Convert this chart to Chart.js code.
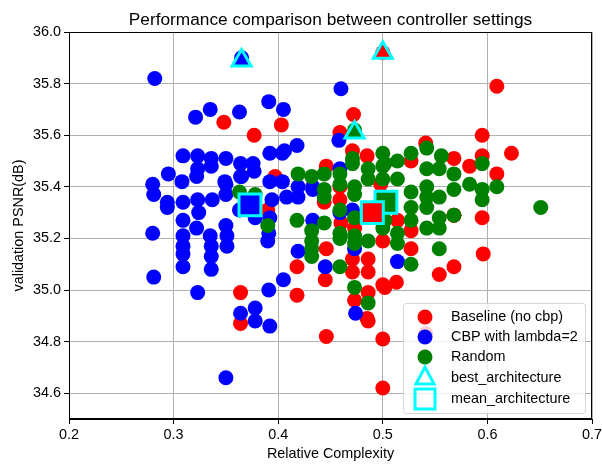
<!DOCTYPE html>
<html>
<head>
<meta charset="utf-8">
<script src="https://cdn.jsdelivr.net/npm/chart.js@4"></script>
<style>
  html, body { margin: 0; padding: 0; background: #fff; }
  #wrap { width: 602px; height: 464px; }
</style>
</head>
<body>
<div id="wrap"><canvas id="scatter-chart" width="602" height="464"></canvas></div>
<script>
// values: [relative complexity, PSNR]
var baseline = [
  [0.348,35.65],[0.377,35.60],[0.403,35.64],[0.472,35.68],[0.459,35.61],[0.500,35.92],
  [0.609,35.79],[0.595,35.60],[0.623,35.53],[0.595,35.52],[0.609,35.45],[0.583,35.48],
  [0.568,35.51],[0.595,35.28],[0.568,35.29],[0.596,35.14],[0.568,35.09],[0.554,35.06],
  [0.541,35.57],[0.527,35.50],[0.471,35.54],[0.485,35.52],[0.446,35.48],[0.459,35.40],
  [0.459,35.35],[0.444,35.34],[0.473,35.24],[0.471,35.12],[0.471,35.07],[0.486,35.12],
  [0.486,35.07],[0.486,34.99],[0.500,35.19],[0.500,35.02],[0.446,35.16],[0.418,35.09],
  [0.445,35.04],[0.418,34.98],[0.446,34.82],[0.500,34.81],[0.500,34.62],[0.485,34.89],
  [0.473,34.96],[0.486,34.88],[0.364,34.99],[0.364,34.87],[0.527,35.16],[0.513,35.03],
  [0.502,35.01],[0.541,34.83],[0.514,35.27],[0.527,35.23],[0.489,35.30],[0.390,35.31],
  [0.397,35.44],[0.498,35.41],[0.568,35.29],[0.460,35.26]
];
var cbp = [
  [0.282,35.82],[0.365,35.90],[0.321,35.67],[0.335,35.70],[0.363,35.69],[0.391,35.73],
  [0.405,35.70],[0.460,35.78],[0.418,35.56],[0.392,35.53],[0.404,35.53],[0.458,35.58],
  [0.309,35.52],[0.323,35.52],[0.336,35.51],[0.350,35.51],[0.364,35.49],[0.376,35.49],
  [0.295,35.45],[0.308,35.42],[0.322,35.44],[0.323,35.47],[0.336,35.48],[0.349,35.42],
  [0.364,35.44],[0.377,35.46],[0.392,35.42],[0.404,35.42],[0.280,35.41],[0.281,35.37],
  [0.294,35.34],[0.294,35.32],[0.309,35.34],[0.323,35.35],[0.324,35.30],[0.337,35.35],
  [0.350,35.37],[0.350,35.41],[0.365,35.44],[0.419,35.40],[0.433,35.40],[0.363,35.31],
  [0.378,35.28],[0.394,35.35],[0.392,35.28],[0.309,35.27],[0.322,35.24],[0.350,35.25],
  [0.391,35.22],[0.309,35.21],[0.335,35.21],[0.351,35.21],[0.280,35.22],[0.309,35.17],
  [0.309,35.14],[0.309,35.09],[0.336,35.17],[0.336,35.13],[0.336,35.08],[0.351,35.17],
  [0.390,35.19],[0.281,35.05],[0.323,34.99],[0.391,35.00],[0.364,34.91],[0.378,34.93],
  [0.378,34.88],[0.392,34.86],[0.405,35.04],[0.419,35.15],[0.433,35.27],[0.445,35.09],
  [0.408,35.36],[0.419,35.36],[0.433,35.39],[0.459,35.47],[0.459,35.30],[0.471,35.31],
  [0.473,35.16],[0.474,34.91],[0.350,34.66],[0.514,35.11],[0.406,35.54]
];
var random = [
  [0.473,35.62],[0.651,35.32],[0.609,35.40],[0.595,35.49],[0.595,35.35],[0.595,35.39],
  [0.583,35.41],[0.568,35.45],[0.568,35.39],[0.556,35.52],[0.554,35.47],[0.554,35.36],
  [0.554,35.28],[0.554,35.24],[0.554,35.16],[0.542,35.55],[0.542,35.47],[0.542,35.40],
  [0.542,35.36],[0.542,35.32],[0.542,35.24],[0.527,35.53],[0.527,35.38],[0.527,35.32],
  [0.527,35.27],[0.527,35.10],[0.514,35.50],[0.514,35.43],[0.514,35.22],[0.514,35.18],
  [0.500,35.53],[0.502,35.49],[0.500,35.43],[0.502,35.27],[0.500,35.24],[0.419,35.45],
  [0.432,35.44],[0.444,35.45],[0.459,35.45],[0.471,35.51],[0.471,35.49],[0.486,35.47],
  [0.486,35.43],[0.500,35.48],[0.444,35.39],[0.444,35.36],[0.459,35.41],[0.473,35.40],
  [0.473,35.37],[0.459,35.31],[0.418,35.27],[0.444,35.26],[0.432,35.23],[0.432,35.19],
  [0.432,35.16],[0.432,35.13],[0.459,35.22],[0.459,35.20],[0.473,35.28],[0.473,35.21],
  [0.473,35.18],[0.486,35.19],[0.459,35.09],[0.473,35.01],[0.486,34.95],[0.390,35.25],
  [0.363,35.38],[0.378,35.37],[0.568,35.29]
];
var bestArch = [[0.500,35.92],[0.365,35.89],[0.473,35.61]];
var meanArch = [[0.490,35.30],[0.373,35.33],[0.503,35.34]];
var seriesNames = ['Baseline (no cbp)', 'CBP with lambda=2', 'Random'];
var seriesColors = ['#ff0000', '#0000ff', '#008000'];
var xTicks = [0.2, 0.3, 0.4, 0.5, 0.6, 0.7];
var yTicks = [34.6, 34.8, 35.0, 35.2, 35.4, 35.6, 35.8, 36.0];
var titleText = 'Performance comparison between controller settings';

var FONT = '"Liberation Sans", Arial, sans-serif';
var FS = 14.4;

function pts(arr) { return arr.map(p => ({ x: p[0], y: p[1] })); }

var datasets = [];
[baseline, cbp, random].forEach(function (arr, i) {
  datasets.push({
    label: seriesNames[i],
    data: pts(arr),
    backgroundColor: seriesColors[i],
    borderWidth: 0,
    pointRadius: 7.5,
    pointHoverRadius: 7.5,
    order: 10 - i
  });
});
bestArch.forEach(function (p, i) {
  datasets.push({
    label: 'best_architecture',
    data: pts([p]),
    pointStyle: 'triangle',
    backgroundColor: seriesColors[i],
    borderColor: '#00ffff',
    borderWidth: 3,
    pointRadius: 11,
    order: 2
  });
});
meanArch.forEach(function (p, i) {
  datasets.push({
    label: 'mean_architecture',
    data: pts([p]),
    pointStyle: 'rect',
    backgroundColor: seriesColors[i],
    borderColor: '#00ffff',
    borderWidth: 3,
    pointRadius: 15.5,
    order: 1
  });
});

// matplotlib-like frame, title over the axes and legend inside them
var framePlugin = {
  id: 'frame',
  afterDatasetsDraw: function (chart) {
    var a = chart.chartArea, ctx = chart.ctx;
    ctx.save();
    ctx.strokeStyle = '#000';
    ctx.lineWidth = 1;
    ctx.strokeRect(a.left + 0.5, a.top + 0.5, a.right - a.left - 1, a.bottom - a.top - 1);

    ctx.fillStyle = '#000';
    ctx.font = '17.3px ' + FONT;
    ctx.textAlign = 'center';
    ctx.textBaseline = 'alphabetic';
    ctx.fillText(titleText, (a.left + a.right) / 2, 25);

    // legend box
    var bx = 403, by = 303, bw = 182, bh = 110;
    ctx.fillStyle = 'rgba(255,255,255,0.8)';
    ctx.strokeStyle = 'rgba(204,204,204,0.8)';
    ctx.beginPath();
    ctx.roundRect(bx + 0.5, by + 0.5, bw, bh, 3);
    ctx.fill();
    ctx.stroke();

    var rows = [317, 337, 357, 378, 399];
    var labels = seriesNames.concat(['best_architecture', 'mean_architecture']);
    var mx = 425;
    for (var i = 0; i < 3; i++) {
      ctx.fillStyle = seriesColors[i];
      ctx.beginPath();
      ctx.arc(mx, rows[i], 7.5, 0, Math.PI * 2);
      ctx.fill();
    }
    ctx.strokeStyle = '#00ffff';
    ctx.lineWidth = 3;
    ctx.beginPath();
    ctx.moveTo(mx, rows[3] - 11);
    ctx.lineTo(mx + 9, rows[3] + 6);
    ctx.lineTo(mx - 9, rows[3] + 6);
    ctx.closePath();
    ctx.stroke();
    ctx.strokeRect(mx - 10, rows[4] - 10, 20, 20);

    ctx.fillStyle = '#000';
    ctx.font = FS + 'px ' + FONT;
    ctx.textBaseline = 'middle';
    ctx.textAlign = 'left';
    labels.forEach(function (t, i) { ctx.fillText(t, 451, rows[i]); });
    ctx.restore();
  }
};

var ctx = document.getElementById('scatter-chart').getContext('2d');
var chart = new Chart(ctx, {
  type: 'scatter',
  data: { datasets: datasets },
  options: {
    responsive: false,
    animation: false,
    layout: { autoPadding: false, padding: { left: 10, right: 10, top: 32, bottom: 0 } },
    plugins: {
      legend: { display: false },
      tooltip: { enabled: false },
      title: { display: false }
    },
    scales: {
      x: {
        type: 'linear',
        min: 0.2,
        max: 0.7,
        afterBuildTicks: function (s) { s.ticks = xTicks.map(v => ({ value: v })); },
        afterFit: function (s) { s.height = 45; s.paddingRight = 0; s.paddingLeft = 0; },
        ticks: {
          color: '#000',
          font: { family: FONT, size: FS },
          padding: 2,
          maxRotation: 0,
          callback: v => v.toFixed(1)
        },
        grid: { color: '#b0b0b0', tickColor: '#000', tickLength: 5, lineWidth: 1 },
        border: { display: true, color: '#000' },
        title: { display: true, text: 'Relative Complexity', color: '#000', font: { family: FONT, size: FS }, padding: { top: 0, bottom: 1 } }
      },
      y: {
        type: 'linear',
        min: 34.5,
        max: 36.0,
        afterBuildTicks: function (s) { s.ticks = yTicks.map(v => ({ value: v })); },
        afterFit: function (s) { s.width = 59; s.paddingTop = 0; s.paddingBottom = 0; },
        ticks: {
          color: '#000',
          font: { family: FONT, size: FS },
          padding: 3,
          callback: v => v.toFixed(1)
        },
        grid: { color: '#b0b0b0', tickColor: '#000', tickLength: 5, lineWidth: 1 },
        border: { display: true, color: '#000' },
        title: { display: true, text: 'validation PSNR(dB)', color: '#000', font: { family: FONT, size: FS }, padding: { top: 0, bottom: 0 } }
      }
    }
  },
  plugins: [framePlugin]
});
chart.render();
</script>
</body>
</html>
